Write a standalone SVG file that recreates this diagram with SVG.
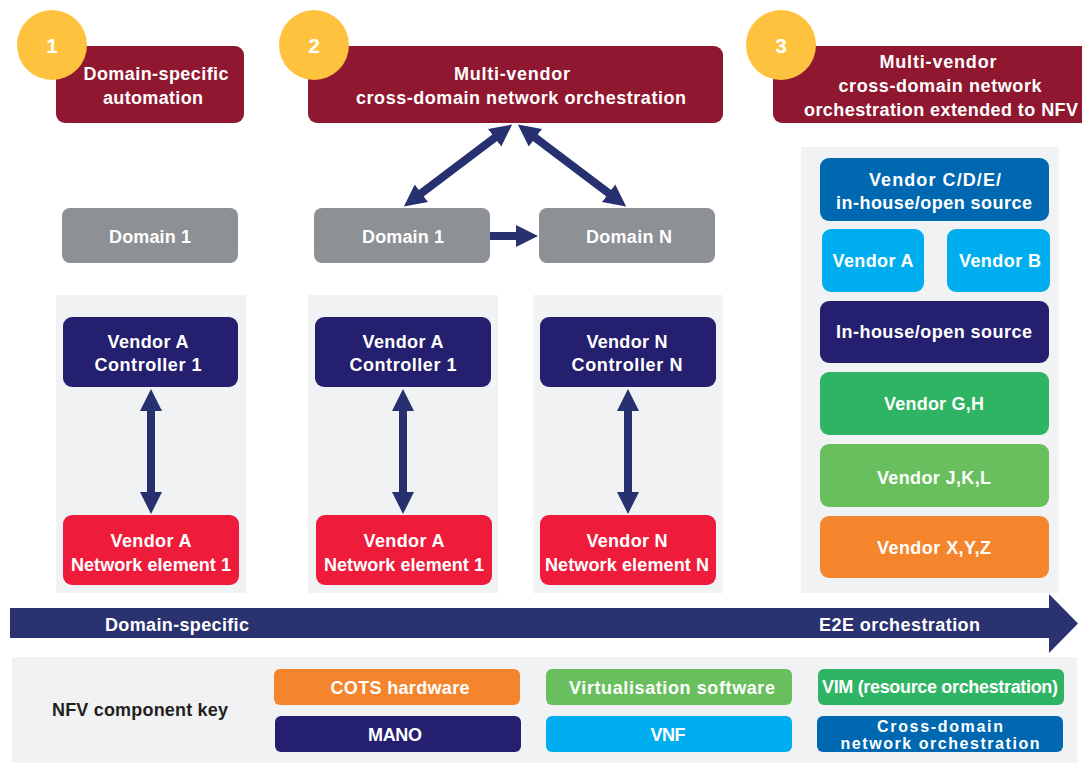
<svg xmlns="http://www.w3.org/2000/svg" width="1082" height="763" viewBox="0 0 1082 763">
  <style>
    text { font-family: "Liberation Sans", Arial, sans-serif; font-weight: bold; font-size: 18px; fill: #ffffff; text-anchor: middle; }
    .num { font-size: 21px; }
    .small { font-size: 16px; }
    .dark { fill: #231F20; }
    .panel { fill: #F1F2F4; }
    .title { fill: #8F1730; }
    .badge { fill: #FEC23F; }
    .domain { fill: #8D9094; }
    .ctrl { fill: #241F6E; }
    .ne { fill: #EE1B3B; }
    .xdom { fill: #0068B1; }
    .vnf { fill: #00AEEF; }
    .vim { fill: #2EB462; }
    .virt { fill: #69BE5D; }
    .cots { fill: #F5852D; }
    .link { stroke: #283170; stroke-width: 8; fill: none; }
  </style>
  <defs>
    <marker id="head" markerUnits="userSpaceOnUse" markerWidth="24" markerHeight="24" viewBox="0 -12 24 24" refX="1" refY="0" orient="auto-start-reverse">
      <path d="M0,-11 L22,0 L0,11 Z" fill="#283170"/>
    </marker>
  </defs>

  <!-- background panels -->
  <g id="panels">
    <rect class="panel" x="56" y="295" width="190" height="298"/>
    <rect class="panel" x="308" y="295" width="190" height="298"/>
    <rect class="panel" x="533" y="295" width="190" height="298"/>
    <rect class="panel" x="801" y="147" width="258" height="446"/>
    <rect class="panel" x="12" y="657" width="1065" height="106"/>
  </g>

  <!-- stage 1 -->
  <g id="stage1">
    <rect class="title" x="56" y="46" width="188" height="77" rx="9"/>
    <text x="156" y="80" textLength="145">Domain-specific</text>
    <text x="153" y="104" textLength="100">automation</text>
    <circle class="badge" cx="52" cy="45" r="35"/>
    <text class="num" x="52" y="53">1</text>
  </g>
  <g id="stage2">
    <rect class="title" x="308" y="46" width="415" height="77" rx="9"/>
    <text x="512" y="80" textLength="116">Multi-vendor</text>
    <text x="521" y="104" textLength="330">cross-domain network orchestration</text>
    <circle class="badge" cx="314" cy="45" r="35"/>
    <text class="num" x="314" y="53">2</text>
  </g>
  <g id="stage3">
    <rect class="title" x="773" y="46" width="330" height="77" rx="9"/>
    <text x="938" y="68" textLength="117">Multi-vendor</text>
    <text x="940" y="92" textLength="203">cross-domain network</text>
    <text x="941" y="116" textLength="274">orchestration extended to NFV</text>
    <circle class="badge" cx="781" cy="45" r="35"/>
    <text class="num" x="781" y="53">3</text>
  </g>

  <!-- domains -->
  <g id="domain1-a">
    <rect class="domain" x="62" y="208" width="176" height="55" rx="8"/>
    <text x="150" y="243" textLength="82">Domain 1</text>
  </g>
  <g id="domain1-b">
    <rect class="domain" x="314" y="208" width="176" height="55" rx="8"/>
    <text x="403" y="243" textLength="82">Domain 1</text>
  </g>
  <g id="domainN">
    <rect class="domain" x="539" y="208" width="176" height="55" rx="8"/>
    <text x="629" y="243" textLength="86">Domain N</text>
  </g>

  <!-- controllers -->
  <g id="ctrl-a1">
    <rect class="ctrl" x="63" y="317" width="175" height="70" rx="9"/>
    <text x="148" y="348" textLength="81">Vendor A</text>
    <text x="148" y="371" textLength="107">Controller 1</text>
  </g>
  <g id="ctrl-a2">
    <rect class="ctrl" x="315" y="317" width="176" height="70" rx="9"/>
    <text x="403" y="348" textLength="81">Vendor A</text>
    <text x="403" y="371" textLength="107">Controller 1</text>
  </g>
  <g id="ctrl-n">
    <rect class="ctrl" x="540" y="317" width="176" height="70" rx="9"/>
    <text x="627" y="348" textLength="81">Vendor N</text>
    <text x="627" y="371" textLength="111">Controller N</text>
  </g>

  <!-- network elements -->
  <g id="ne-a1">
    <rect class="ne" x="63" y="515" width="176" height="70" rx="9"/>
    <text x="151" y="547" textLength="81">Vendor A</text>
    <text x="151" y="571" textLength="160">Network element 1</text>
  </g>
  <g id="ne-a2">
    <rect class="ne" x="316" y="515" width="176" height="70" rx="9"/>
    <text x="404" y="547" textLength="81">Vendor A</text>
    <text x="404" y="571" textLength="160">Network element 1</text>
  </g>
  <g id="ne-n">
    <rect class="ne" x="540" y="515" width="176" height="70" rx="9"/>
    <text x="627" y="547" textLength="81">Vendor N</text>
    <text x="627" y="571" textLength="164">Network element N</text>
  </g>

  <!-- NFV stack -->
  <g id="stack-orch">
    <rect class="xdom" x="820" y="158" width="229" height="63" rx="9"/>
    <text x="935" y="186" textLength="132">Vendor C/D/E/</text>
    <text x="934" y="209" textLength="196">in-house/open source</text>
  </g>
  <g id="stack-vnf-a">
    <rect class="vnf" x="822" y="229" width="102" height="63" rx="9"/>
    <text x="873" y="267" textLength="81">Vendor A</text>
  </g>
  <g id="stack-vnf-b">
    <rect class="vnf" x="947" y="229" width="103" height="63" rx="9"/>
    <text x="1000" y="267" textLength="82">Vendor B</text>
  </g>
  <g id="stack-mano">
    <rect class="ctrl" x="820" y="301" width="229" height="62" rx="9"/>
    <text x="934" y="338" textLength="196">In-house/open source</text>
  </g>
  <g id="stack-vim">
    <rect class="vim" x="820" y="372" width="229" height="63" rx="9"/>
    <text x="934" y="410" textLength="100">Vendor G,H</text>
  </g>
  <g id="stack-virt">
    <rect class="virt" x="820" y="444" width="229" height="63" rx="9"/>
    <text x="934" y="484" textLength="114">Vendor J,K,L</text>
  </g>
  <g id="stack-cots">
    <rect class="cots" x="820" y="516" width="229" height="62" rx="9"/>
    <text x="934" y="554" textLength="114">Vendor X,Y,Z</text>
  </g>

  <!-- connectors -->
  <g id="connectors">
    <line class="link" x1="420.6" y1="193.8" x2="495.4" y2="137.2" marker-start="url(#head)" marker-end="url(#head)"/>
    <line class="link" x1="534.6" y1="137.2" x2="609.4" y2="193.8" marker-start="url(#head)" marker-end="url(#head)"/>
    <line class="link" x1="490" y1="236" x2="517" y2="236" marker-end="url(#head)"/>
    <line class="link" x1="151" y1="410" x2="151" y2="493" marker-start="url(#head)" marker-end="url(#head)"/>
    <line class="link" x1="403" y1="410" x2="403" y2="493" marker-start="url(#head)" marker-end="url(#head)"/>
    <line class="link" x1="628" y1="410" x2="628" y2="493" marker-start="url(#head)" marker-end="url(#head)"/>
  </g>

  <!-- progression arrow -->
  <g id="progression">
    <polygon points="10,608 1049,608 1049,594 1078,623.5 1049,653 1049,638 10,638" fill="#2B3270"/>
    <text x="177" y="631" textLength="144">Domain-specific</text>
    <text x="899.5" y="631" textLength="161">E2E orchestration</text>
  </g>

  <!-- component key -->
  <g id="key-title">
    <text class="dark" x="140" y="716" textLength="176">NFV component key</text>
  </g>
  <g id="key-cots">
    <rect class="cots" x="274" y="669" width="246" height="36" rx="6"/>
    <text x="400" y="694" textLength="139">COTS hardware</text>
  </g>
  <g id="key-mano">
    <rect class="ctrl" x="275" y="716" width="246" height="36" rx="6"/>
    <text x="395" y="741" textLength="54">MANO</text>
  </g>
  <g id="key-virt">
    <rect class="virt" x="546" y="669" width="246" height="36" rx="6"/>
    <text x="672" y="694" textLength="206">Virtualisation software</text>
  </g>
  <g id="key-vnf">
    <rect class="vnf" x="546" y="716" width="246" height="36" rx="6"/>
    <text x="668" y="741" textLength="35">VNF</text>
  </g>
  <g id="key-vim">
    <rect class="vim" x="818" y="669" width="246" height="36" rx="6"/>
    <text x="940" y="693" textLength="236">VIM (resource orchestration)</text>
  </g>
  <g id="key-xdom">
    <rect class="xdom" x="817" y="716" width="246" height="36" rx="6"/>
    <text class="small" x="940" y="732" textLength="126">Cross-domain</text>
    <text class="small" x="940" y="749" textLength="199">network orchestration</text>
  </g>
</svg>
